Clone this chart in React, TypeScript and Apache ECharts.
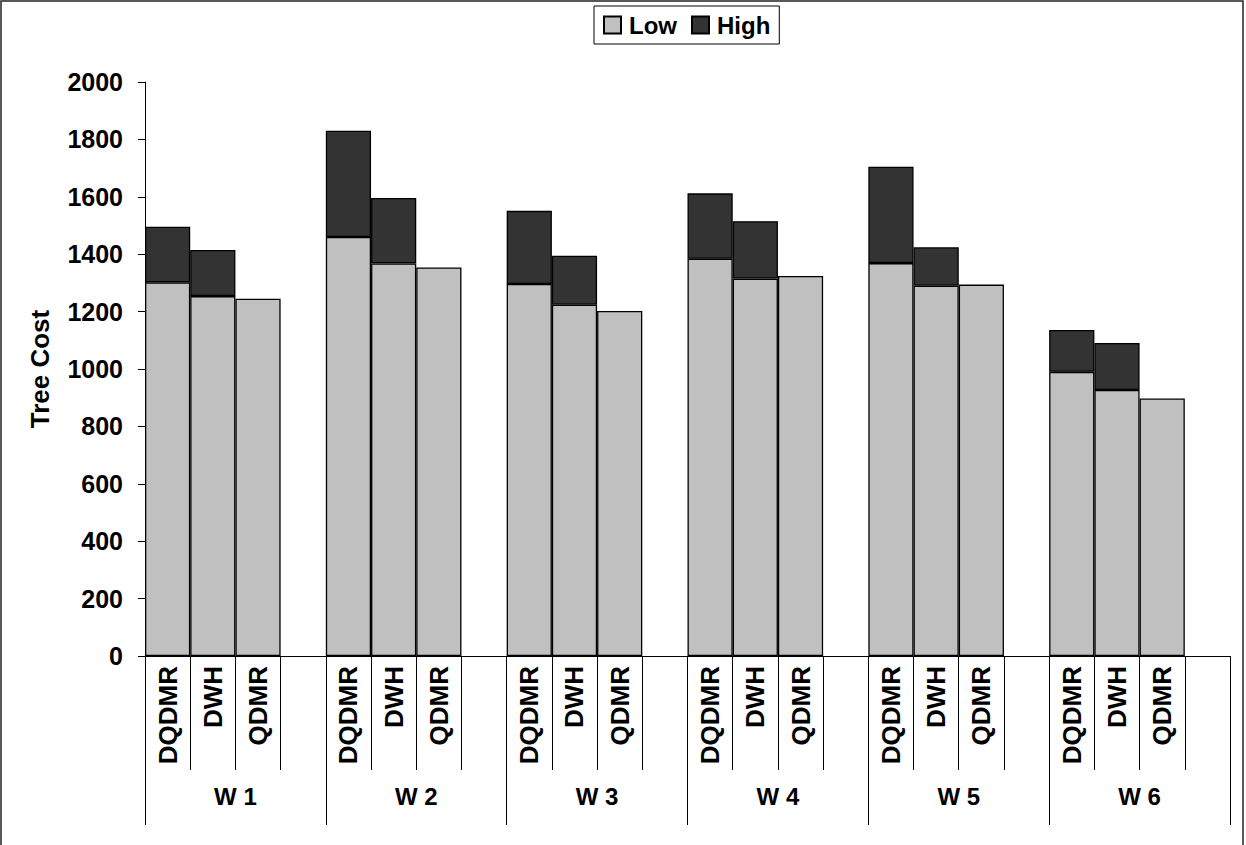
import React, { useEffect, useRef } from "react";
import * as echarts from "echarts";

// Workload groups and the three algorithms compared within each group
const groups = ["W 1", "W 2", "W 3", "W 4", "W 5", "W 6"];
const methods = ["DQDMR", "DWH", "QDMR"];

// Tree cost under low load, per group, per method
const lowValues = [
  [1302, 1254, 1245],
  [1460, 1368, 1354],
  [1296, 1224, 1202],
  [1384, 1315, 1324],
  [1369, 1290, 1294],
  [990, 927, 897],
];

// Additional cost under high load (stacked on top of the low-load cost)
const highExtra = [
  [194, 161, 0],
  [370, 228, 0],
  [255, 171, 0],
  [228, 200, 0],
  [336, 134, 0],
  [146, 164, 0],
];

const yTicks = { min: 0, max: 2000, interval: 200 };

const FONT = "'Liberation Sans', Arial, Helvetica, sans-serif";

export default function App() {
  const ref = useRef<HTMLDivElement>(null);

  useEffect(() => {
    if (!ref.current) return;
    const chart = echarts.init(ref.current, null, { renderer: "svg" });

    // Each group gets its three methods followed by an empty spacer slot
    const categories: string[] = [];
    const low: (number | string)[] = [];
    const high: (number | string)[] = [];
    groups.forEach((_, g) => {
      methods.forEach((m, i) => {
        categories.push(m);
        low.push(lowValues[g][i]);
        high.push(highExtra[g][i] > 0 ? highExtra[g][i] : "-");
      });
      categories.push("");
      low.push("-");
      high.push("-");
    });

    chart.setOption({
      animation: false,
      backgroundColor: "#ffffff",
      textStyle: { fontFamily: FONT },
      graphic: [
        {
          type: "rect",
          shape: { x: 1, y: 1, width: 1242, height: 860 },
          style: { fill: "none", stroke: "#222", lineWidth: 1.5 },
          silent: true,
        },
      ],
      legend: {
        left: 594,
        top: 6,
        padding: [7, 9, 7, 9],
        itemWidth: 17,
        itemHeight: 17,
        itemGap: 14,
        borderColor: "#000",
        borderWidth: 1,
        icon: "rect",
        textStyle: {
          fontFamily: FONT,
          fontSize: 24,
          fontWeight: "bold",
          color: "#000",
          padding: [0, 0, 0, 3],
        },
        data: ["Low", "High"],
      },
      grid: { left: 145, right: 16, top: 82, bottom: 189, containLabel: false },
      xAxis: [
        {
          type: "category",
          data: categories,
          position: "bottom",
          boundaryGap: true,
          axisLine: { show: true, lineStyle: { color: "#000", width: 1 } },
          axisTick: {
            show: true,
            interval: 0,
            length: 114,
            lineStyle: { color: "#000", width: 1 },
          },
          axisLabel: {
            interval: 0,
            rotate: 90,
            margin: 10,
            fontFamily: FONT,
            fontSize: 26,
            fontWeight: "bold",
            color: "#000",
          },
          splitLine: { show: false },
        },
        {
          type: "category",
          data: groups,
          position: "bottom",
          boundaryGap: true,
          axisLine: { show: false },
          axisTick: {
            show: true,
            interval: 0,
            length: 169,
            lineStyle: { color: "#000", width: 1 },
          },
          axisLabel: {
            interval: 0,
            margin: 128,
            fontFamily: FONT,
            fontSize: 24,
            fontWeight: "bold",
            color: "#000",
          },
          splitLine: { show: false },
        },
      ],
      yAxis: {
        type: "value",
        min: yTicks.min,
        max: yTicks.max,
        interval: yTicks.interval,
        name: "Tree Cost",
        nameLocation: "middle",
        nameGap: 92,
        nameRotate: 90,
        nameTextStyle: {
          fontFamily: FONT,
          fontSize: 26,
          fontWeight: "bold",
          color: "#000",
        },
        axisLine: { show: true, lineStyle: { color: "#000", width: 1 } },
        axisTick: { show: true, length: 7, lineStyle: { color: "#000", width: 1 } },
        axisLabel: {
          margin: 22,
          fontFamily: FONT,
          fontSize: 25,
          fontWeight: "bold",
          color: "#000",
          formatter: (v: number) => String(v),
        },
        splitLine: { show: false },
      },
      series: [
        {
          name: "Low",
          type: "bar",
          stack: "cost",
          xAxisIndex: 0,
          barCategoryGap: "0%",
          data: low,
          itemStyle: { color: "#C0C0C0", borderColor: "#000", borderWidth: 1.3 },
        },
        {
          name: "High",
          type: "bar",
          stack: "cost",
          xAxisIndex: 0,
          barCategoryGap: "0%",
          data: high,
          itemStyle: { color: "#333333", borderColor: "#000", borderWidth: 1.3 },
        },
      ],
    });

    return () => chart.dispose();
  }, []);

  return (
    <div
      ref={ref}
      style={{ position: "fixed", left: 0, top: 0, width: 1246, height: 845 }}
    />
  );
}
